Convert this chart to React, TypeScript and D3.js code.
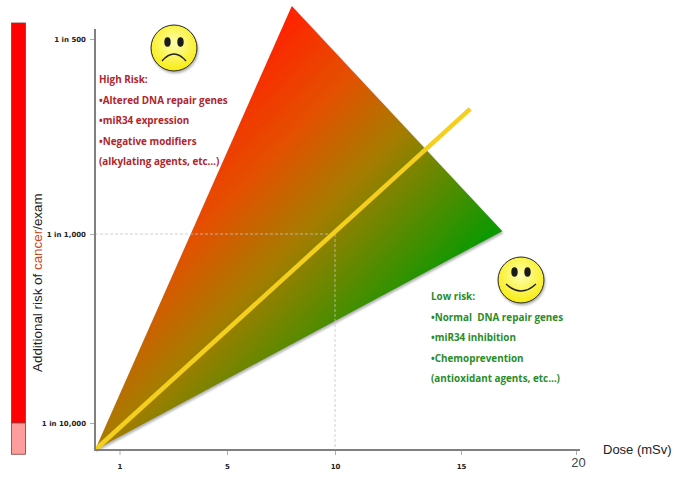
import React, { useEffect, useRef } from 'react';
import * as d3 from 'd3';

// dose (mSv) / 1-in-N risk
const doseKnots = [0.1, 1, 5, 10, 15, 20];
const riskKnots = [444, 500, 1000, 10000, 14000];
const doseTicks = [1, 5, 10, 15, 20];
const riskTicks = [500, 1000, 10000];
const riskLabels = ['1 in 500', '1 in 1,000', '1 in 10,000'];

const wedge: [number, number][] = [[0.1, 14000], [8, 444], [16.8, 990]];
const meanLine: [number, number][] = [[0.1, 14000], [15.4, 641]];
const guide: [number, number][] = [[0.1, 1000], [10, 1000], [10, 14000]];
const barSegments = [
    { from: 472, to: 10000, color: '#ff0000' },
    { from: 10000, to: 14760, color: '#ff9c9c' },
];

const highRisk = ['High Risk:', '•Altered DNA repair genes', '•miR34 expression', '•Negative modifiers', '(alkylating agents, etc…)'];
const lowRisk = ['Low risk:', '•Normal\u00a0 DNA repair genes', '•miR34 inhibition', '•Chemoprevention', '(antioxidant agents, etc…)'];

const App = () => {
    const svgRef = useRef<SVGSVGElement>(null);

    useEffect(() => {
        const svg = d3.select(svgRef.current);
        svg.selectAll('*').remove();

        const x = d3.scaleLinear().domain(doseKnots).range([95, 119.5, 227, 335, 461, 576]);
        const y = d3.scaleLog().domain(riskKnots).range([6, 39, 234, 423, 450]);
        const line = d3.line<[number, number]>().x(d => x(d[0])).y(d => y(d[1]));

        const defs = svg.append('defs');

        // red to green, across the wedge
        const grad = defs.append('linearGradient')
            .attr('id', 'wedgeFill')
            .attr('gradientUnits', 'userSpaceOnUse')
            .attr('x1', 270).attr('y1', 30)
            .attr('x2', 490).attr('y2', 240);
        grad.append('stop').attr('offset', 0).attr('stop-color', '#ff2200');
        grad.append('stop').attr('offset', 0.29).attr('stop-color', '#e45000');
        grad.append('stop').attr('offset', 0.54).attr('stop-color', '#a67c00');
        grad.append('stop').attr('offset', 1).attr('stop-color', '#089a00');

        const shadow = defs.append('filter').attr('id', 'soft').attr('x', '-10%').attr('y', '-10%').attr('width', '125%').attr('height', '125%');
        shadow.append('feDropShadow')
            .attr('dx', 1).attr('dy', 2).attr('stdDeviation', 1.2)
            .attr('flood-color', '#777').attr('flood-opacity', 0.55);

        const faceFill = defs.append('radialGradient').attr('id', 'faceFill').attr('cx', '50%').attr('cy', '40%').attr('r', '60%');
        faceFill.append('stop').attr('offset', 0).attr('stop-color', '#ffffb0');
        faceFill.append('stop').attr('offset', 1).attr('stop-color', '#f8ec10');

        // risk bar on the left
        svg.append('g')
            .selectAll('rect')
            .data(barSegments)
            .join('rect')
            .attr('x', 11.5)
            .attr('width', 14)
            .attr('y', d => y(d.from))
            .attr('height', d => y(d.to) - y(d.from))
            .attr('fill', d => d.color)
            .attr('stroke', '#8a3a3a')
            .attr('stroke-width', 0.8);

        svg.append('path')
            .attr('d', line(wedge) + 'Z')
            .attr('fill', 'url(#wedgeFill)')
            .attr('filter', 'url(#soft)');

        svg.append('path')
            .attr('d', line(guide))
            .attr('fill', 'none')
            .attr('stroke', '#c4c4c4')
            .attr('stroke-width', 0.8)
            .attr('stroke-dasharray', '3,2');

        svg.append('path')
            .attr('d', line(meanLine))
            .attr('fill', 'none')
            .attr('stroke', '#f4cf1e')
            .attr('stroke-width', 4.5);

        // axes
        const xAxis = d3.axisBottom(x)
            .tickValues(doseTicks)
            .tickSize(5)
            .tickSizeOuter(0)
            .tickPadding(9)
            .tickFormat(d => String(d));
        const yAxis = d3.axisLeft(y)
            .tickValues(riskTicks)
            .tickSize(5)
            .tickSizeOuter(0)
            .tickPadding(4)
            .tickFormat((d, i) => riskLabels[i]);

        const gx = svg.append('g').attr('transform', 'translate(0,450)').call(xAxis);
        const gy = svg.append('g').attr('transform', 'translate(95,0)').call(yAxis);

        [gx, gy].forEach(g => {
            g.selectAll('.tick line').attr('stroke', '#999').attr('stroke-width', 0.8);
            g.selectAll('.tick text')
                .attr('fill', '#222')
                .attr('font-family', 'DejaVu Sans')
                .attr('font-weight', 700)
                .attr('font-size', 7);
            g.select('.domain').attr('stroke', 'none');
        });
        gx.selectAll('.tick text').filter(d => d === 20)
            .attr('font-family', 'Liberation Sans')
            .attr('font-weight', 400)
            .attr('font-size', 13)
            .attr('fill', '#444')
            .attr('dx', 2)
            .attr('dy', '0.2em');

        svg.append('path')
            .attr('d', `M${x(0.1)},29V${y(14000)}H580`)
            .attr('fill', 'none')
            .attr('stroke', '#808080')
            .attr('stroke-width', 2);

        // axis titles
        const yTitle = svg.append('text')
            .attr('transform', 'translate(42,372) rotate(-90)')
            .attr('font-family', 'Liberation Sans')
            .attr('font-size', 13.4)
            .attr('fill', '#222');
        yTitle.append('tspan').text('Additional risk of ');
        yTitle.append('tspan').attr('fill', '#c8481c').text('cancer');
        yTitle.append('tspan').text('/exam');

        svg.append('text')
            .attr('x', 603).attr('y', 454)
            .attr('font-family', 'Liberation Sans')
            .attr('font-size', 13)
            .attr('fill', '#222')
            .text('Dose (mSv)');

        // risk notes
        const notes = (lines: string[], left: number, top: number, color: string) => {
            svg.append('g')
                .selectAll('text')
                .data(lines)
                .join('text')
                .attr('x', left)
                .attr('y', (d, i) => top + i * 20.6)
                .attr('font-family', 'Open Sans')
                .attr('font-weight', 700)
                .attr('font-size', 9.9)
                .attr('fill', color)
                .text(d => d);
        };
        notes(highRisk, 99, 83, '#b0262c');
        notes(lowRisk, 431, 300, '#2a8c2a');

        // faces
        const face = (cx: number, cy: number, mouth: string, eyeY: number, eyeDx: number) => {
            const g = svg.append('g').attr('transform', `translate(${cx},${cy})`);
            g.append('circle')
                .attr('r', 23)
                .attr('fill', 'url(#faceFill)')
                .attr('stroke', '#222')
                .attr('stroke-width', 1)
                .attr('filter', 'url(#soft)');
            [-eyeDx, eyeDx].forEach(dx => {
                g.append('ellipse').attr('cx', dx).attr('cy', eyeY).attr('rx', 3.2).attr('ry', 4.8).attr('fill', '#1a1a1a');
            });
            g.append('path').attr('d', mouth).attr('fill', 'none').attr('stroke', '#222').attr('stroke-width', 1.4);
        };
        face(174, 48, 'M-12,13Q0,-1 12,13', -6, 6.5);
        face(521, 280, 'M-15,4Q0,18 15,4', -8, 6.5);
    }, []);

    return <svg ref={svgRef} width={685} height={481} style={{ position: 'absolute', left: 0, top: 0, background: '#fff' }}></svg>;
};

export default App;
